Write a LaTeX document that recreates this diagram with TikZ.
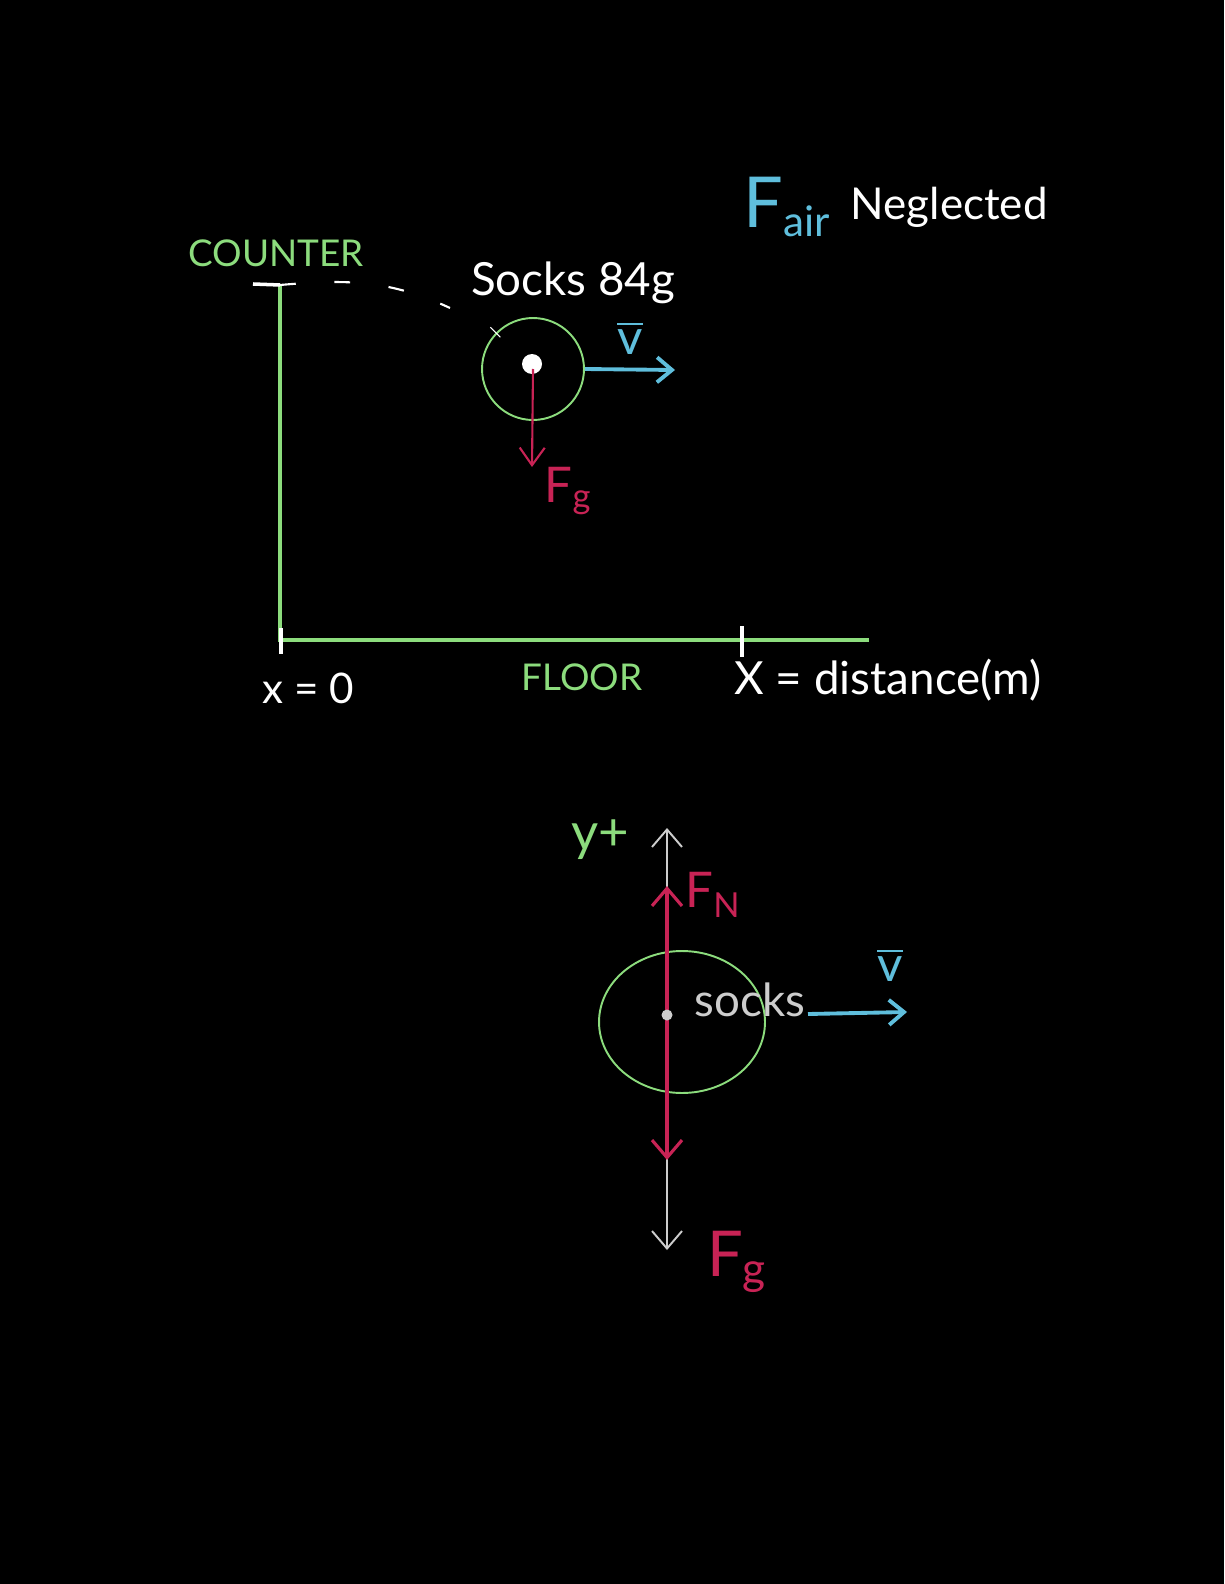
\documentclass[tikz,border=0pt]{standalone}
\usepackage{amsmath}
\usepackage{fontspec}
\setmainfont{Lato}
\usetikzlibrary{shapes.geometric, arrows.meta, positioning}
\definecolor{chalkgreen}{RGB}{140,220,125}
\definecolor{chalkblue}{RGB}{95,190,220}
\definecolor{chalkred}{RGB}{200,35,85}
\definecolor{chalkgrey}{RGB}{205,205,205}
\tikzset{
    chalk/.style = {white, font=\fontsize{24}{28}\selectfont, inner sep=0pt},
    greentext/.style = {chalkgreen, font=\fontsize{21}{25}\selectfont, inner sep=0pt},
    redtext/.style = {chalkred, font=\fontsize{28}{32}\selectfont, inner sep=0pt},
    bluetext/.style = {chalkblue, font=\fontsize{28}{32}\selectfont, inner sep=0pt},
    wall/.style = {chalkgreen, line width=1.8pt},
    tickmark/.style = {white, line width=2pt},
    ball/.style = {draw=chalkgreen, line width=1.1pt, circle, minimum size=2.04cm, inner sep=0pt},
    fbd/.style = {draw=chalkgreen, line width=1.1pt, ellipse, minimum width=3.32cm, minimum height=2.84cm, inner sep=0pt},
    blob/.style = {fill=white, circle, minimum size=0.4cm, inner sep=0pt},
    dot/.style = {fill=chalkgrey, circle, minimum size=0.22cm, inner sep=0pt},
    vel/.style = {chalkblue, line width=2.2pt, -{Straight Barb[length=3mm,width=5mm]}},
    force/.style = {chalkred, line width=1.2pt, -{Straight Barb[length=3.5mm,width=5mm]}},
    bigforce/.style = {chalkred, line width=1.8pt, -{Straight Barb[length=3.5mm,width=6mm]}},
    axis/.style = {chalkgrey, line width=1.1pt, -{Straight Barb[length=3.5mm,width=6mm]}}
}

\begin{document}
\begin{tikzpicture}[x=0.02cm, y=-0.02cm]

    \fill[black] (0,0) rectangle (1224,1584);
    \useasboundingbox (0,0) rectangle (1224,1584);

    % top: counter, floor and the socks in flight
    \node[bluetext] (fair) at (787,207) {\fontsize{40}{44}\selectfont F\fontsize{24}{28}\selectfont\raisebox{-0.45ex}{air}};
    \node[chalk, font=\fontsize{25}{29}\selectfont, right=0.4cm of fair] (neglected) {Neglected};

    \coordinate (top) at (280,285);
    \coordinate (origin) at (280,640);
    \coordinate (floorend) at (869,640);
    \coordinate (lip) at (253,284);
    \coordinate (fall) at (450,308);
    \draw[wall] (top) -- (origin) -- (floorend);
    \draw[tickmark] (lip) -- (top);
    \draw[white, line width=1.2pt, dash pattern=on 9pt off 22pt] (top) to[out=5,in=155] (fall);

    \node[greentext] (counter) at (276,253) {COUNTER};
    \node[chalk, font=\fontsize{26}{30}\selectfont] (socks) at (573,283) {Socks 84g};

    \node[ball] (sock) at (533,369) {};
    \node[blob] (core) at (532,364) {};
    \draw[white, line width=0.6pt] (sock.north west) ++(-6,-5) -- ++(10,10);
    \coordinate (vtip) at (675,370);
    \coordinate (fgtip) at (532,467);
    \draw[vel] (sock.east) -- (vtip);
    \draw[force] (sock.center) -- (fgtip);
    \node[bluetext] (vbar) at (630,338) {$\overline{\text{v}}$};
    \node[redtext] (fg) at (568,491) {F\textsubscript{g}};

    \coordinate (mark0) at (281,628);
    \coordinate (mark0b) at (281,654);
    \coordinate (markd) at (742,626);
    \coordinate (markdb) at (742,657);
    \draw[tickmark] (mark0) -- (mark0b);
    \draw[tickmark] (markd) -- (markdb);

    \node[chalk] (xzero) at (308,688) {x = 0};
    \node[greentext] (floor) at (582,677) {FLOOR};
    \node[chalk, font=\fontsize{26}{30}\selectfont] (xdist) at (888,680) {X = distance(m)};

    % bottom: free body diagram
    \coordinate (cm) at (667,1015);
    \coordinate (ytop) at (667,828);
    \coordinate (ybot) at (667,1250);
    \coordinate (fntip) at (667,886);
    \coordinate (fgend) at (667,1160);
    \node[fbd] (body) at (682,1022) {};
    \draw[axis] (cm) -- (ytop);
    \draw[axis] (cm) -- (ybot);
    \draw[bigforce] (cm) -- (fntip);
    \draw[bigforce] (cm) -- (fgend);
    \node[dot] (cmdot) at (cm) {};

    \node[greentext, font=\fontsize{30}{34}\selectfont] (yplus) at (600,840) {y+};
    \node[redtext] (fn) at (713,895) {F\textsubscript{N}};
    \node[chalk, chalkgrey, font=\fontsize{26}{30}\selectfont] (sockslabel) at (750,1000) {socks};
    \coordinate (vstart) at (808,1014);
    \coordinate (vend) at (907,1012);
    \draw[vel] (vstart) -- (vend);
    \node[bluetext] (vbar2) at (890,965) {$\overline{\text{v}}$};
    \node[redtext, font=\fontsize{36}{40}\selectfont] (fg2) at (737,1262) {F\textsubscript{g}};

\end{tikzpicture}
\end{document}
